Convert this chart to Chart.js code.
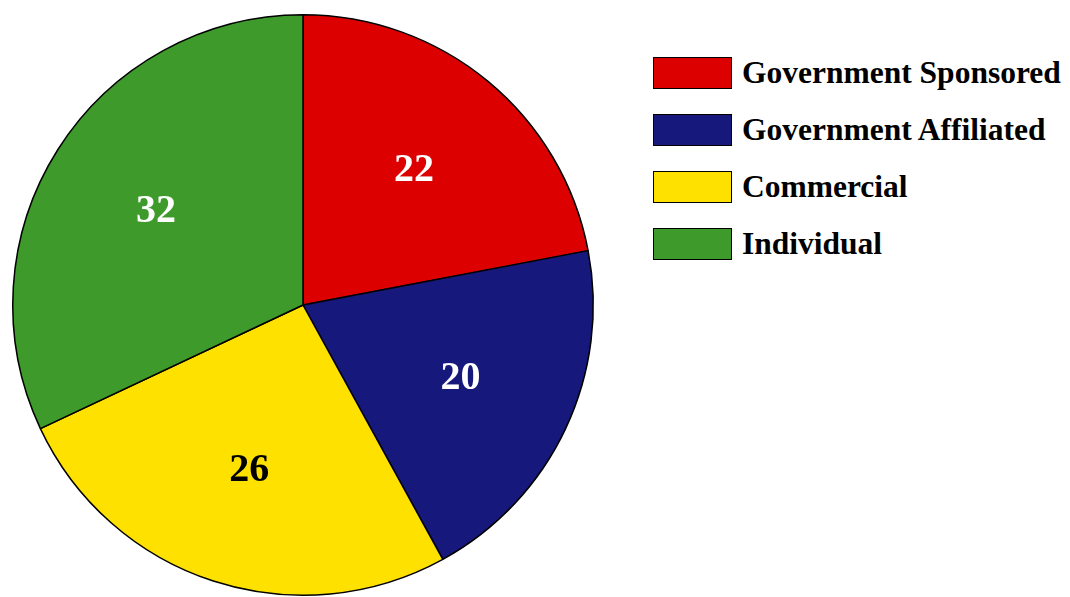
<!DOCTYPE html>
<html>
<head>
<meta charset="utf-8">
<script src="https://cdn.jsdelivr.net/npm/chart.js@4/dist/chart.umd.min.js"></script>
<style>
  body { margin: 0; background: #fff; }
  #wrap { position: relative; width: 1070px; height: 597px; }
  #pieBox { position: absolute; left: 0; top: 0; width: 610px; height: 597px; }
  #legend { position: absolute; left: 653px; top: 57px; font-family: "Liberation Serif", serif; font-weight: bold; font-size: 31.5px; color: #000; }
  .item { display: flex; align-items: center; height: 32px; margin-bottom: 25px; white-space: nowrap; }
  .swatch { width: 77px; height: 30px; border: 1px solid #000; margin-right: 10px; box-sizing: content-box; }
</style>
</head>
<body>
<div id="wrap">
  <div id="pieBox"><canvas id="pieChart"></canvas></div>
  <div id="legend"></div>
</div>
<script>
// categories and values
const labels = ["Government Sponsored", "Government Affiliated", "Commercial", "Individual"];
const values = [22, 20, 26, 32];
const colors = ["#dc0000", "#16187c", "#ffe100", "#3d9a2b"];
const labelColors = ["#ffffff", "#ffffff", "#000000", "#ffffff"];

// legend drawn as html so the gap between box and text can match
const legend = document.getElementById("legend");
labels.forEach((name, i) => {
  const row = document.createElement("div");
  row.className = "item";
  row.innerHTML = '<div class="swatch" style="background:' + colors[i] + '"></div><span>' + name + '</span>';
  legend.appendChild(row);
});

// writes the value inside each slice
const sliceLabels = {
  id: "sliceLabels",
  afterDatasetsDraw(chart) {
    const ctx = chart.ctx;
    const meta = chart.getDatasetMeta(0);
    ctx.save();
    ctx.font = "bold 40px 'Liberation Serif', serif";
    ctx.textAlign = "center";
    ctx.textBaseline = "middle";
    meta.data.forEach((arc, i) => {
      const p = arc.getProps(["x", "y", "startAngle", "endAngle", "outerRadius"], true);
      const mid = (p.startAngle + p.endAngle) / 2;
      const r = p.outerRadius * 0.6;
      ctx.fillStyle = labelColors[i];
      ctx.fillText(String(values[i]), p.x + Math.cos(mid) * r, p.y + Math.sin(mid) * r);
    });
    ctx.restore();
  }
};

new Chart(document.getElementById("pieChart"), {
  type: "pie",
  data: {
    labels: labels,
    datasets: [{
      data: values,
      backgroundColor: colors,
      borderColor: "#000000",
      borderWidth: 1.5
    }]
  },
  options: {
    responsive: true,
    maintainAspectRatio: false,
    animation: false,
    layout: { padding: { top: 14, bottom: 1, left: 12, right: 16 } },
    plugins: {
      legend: { display: false },
      tooltip: { enabled: false }
    }
  },
  plugins: [sliceLabels]
});
</script>
</body>
</html>
